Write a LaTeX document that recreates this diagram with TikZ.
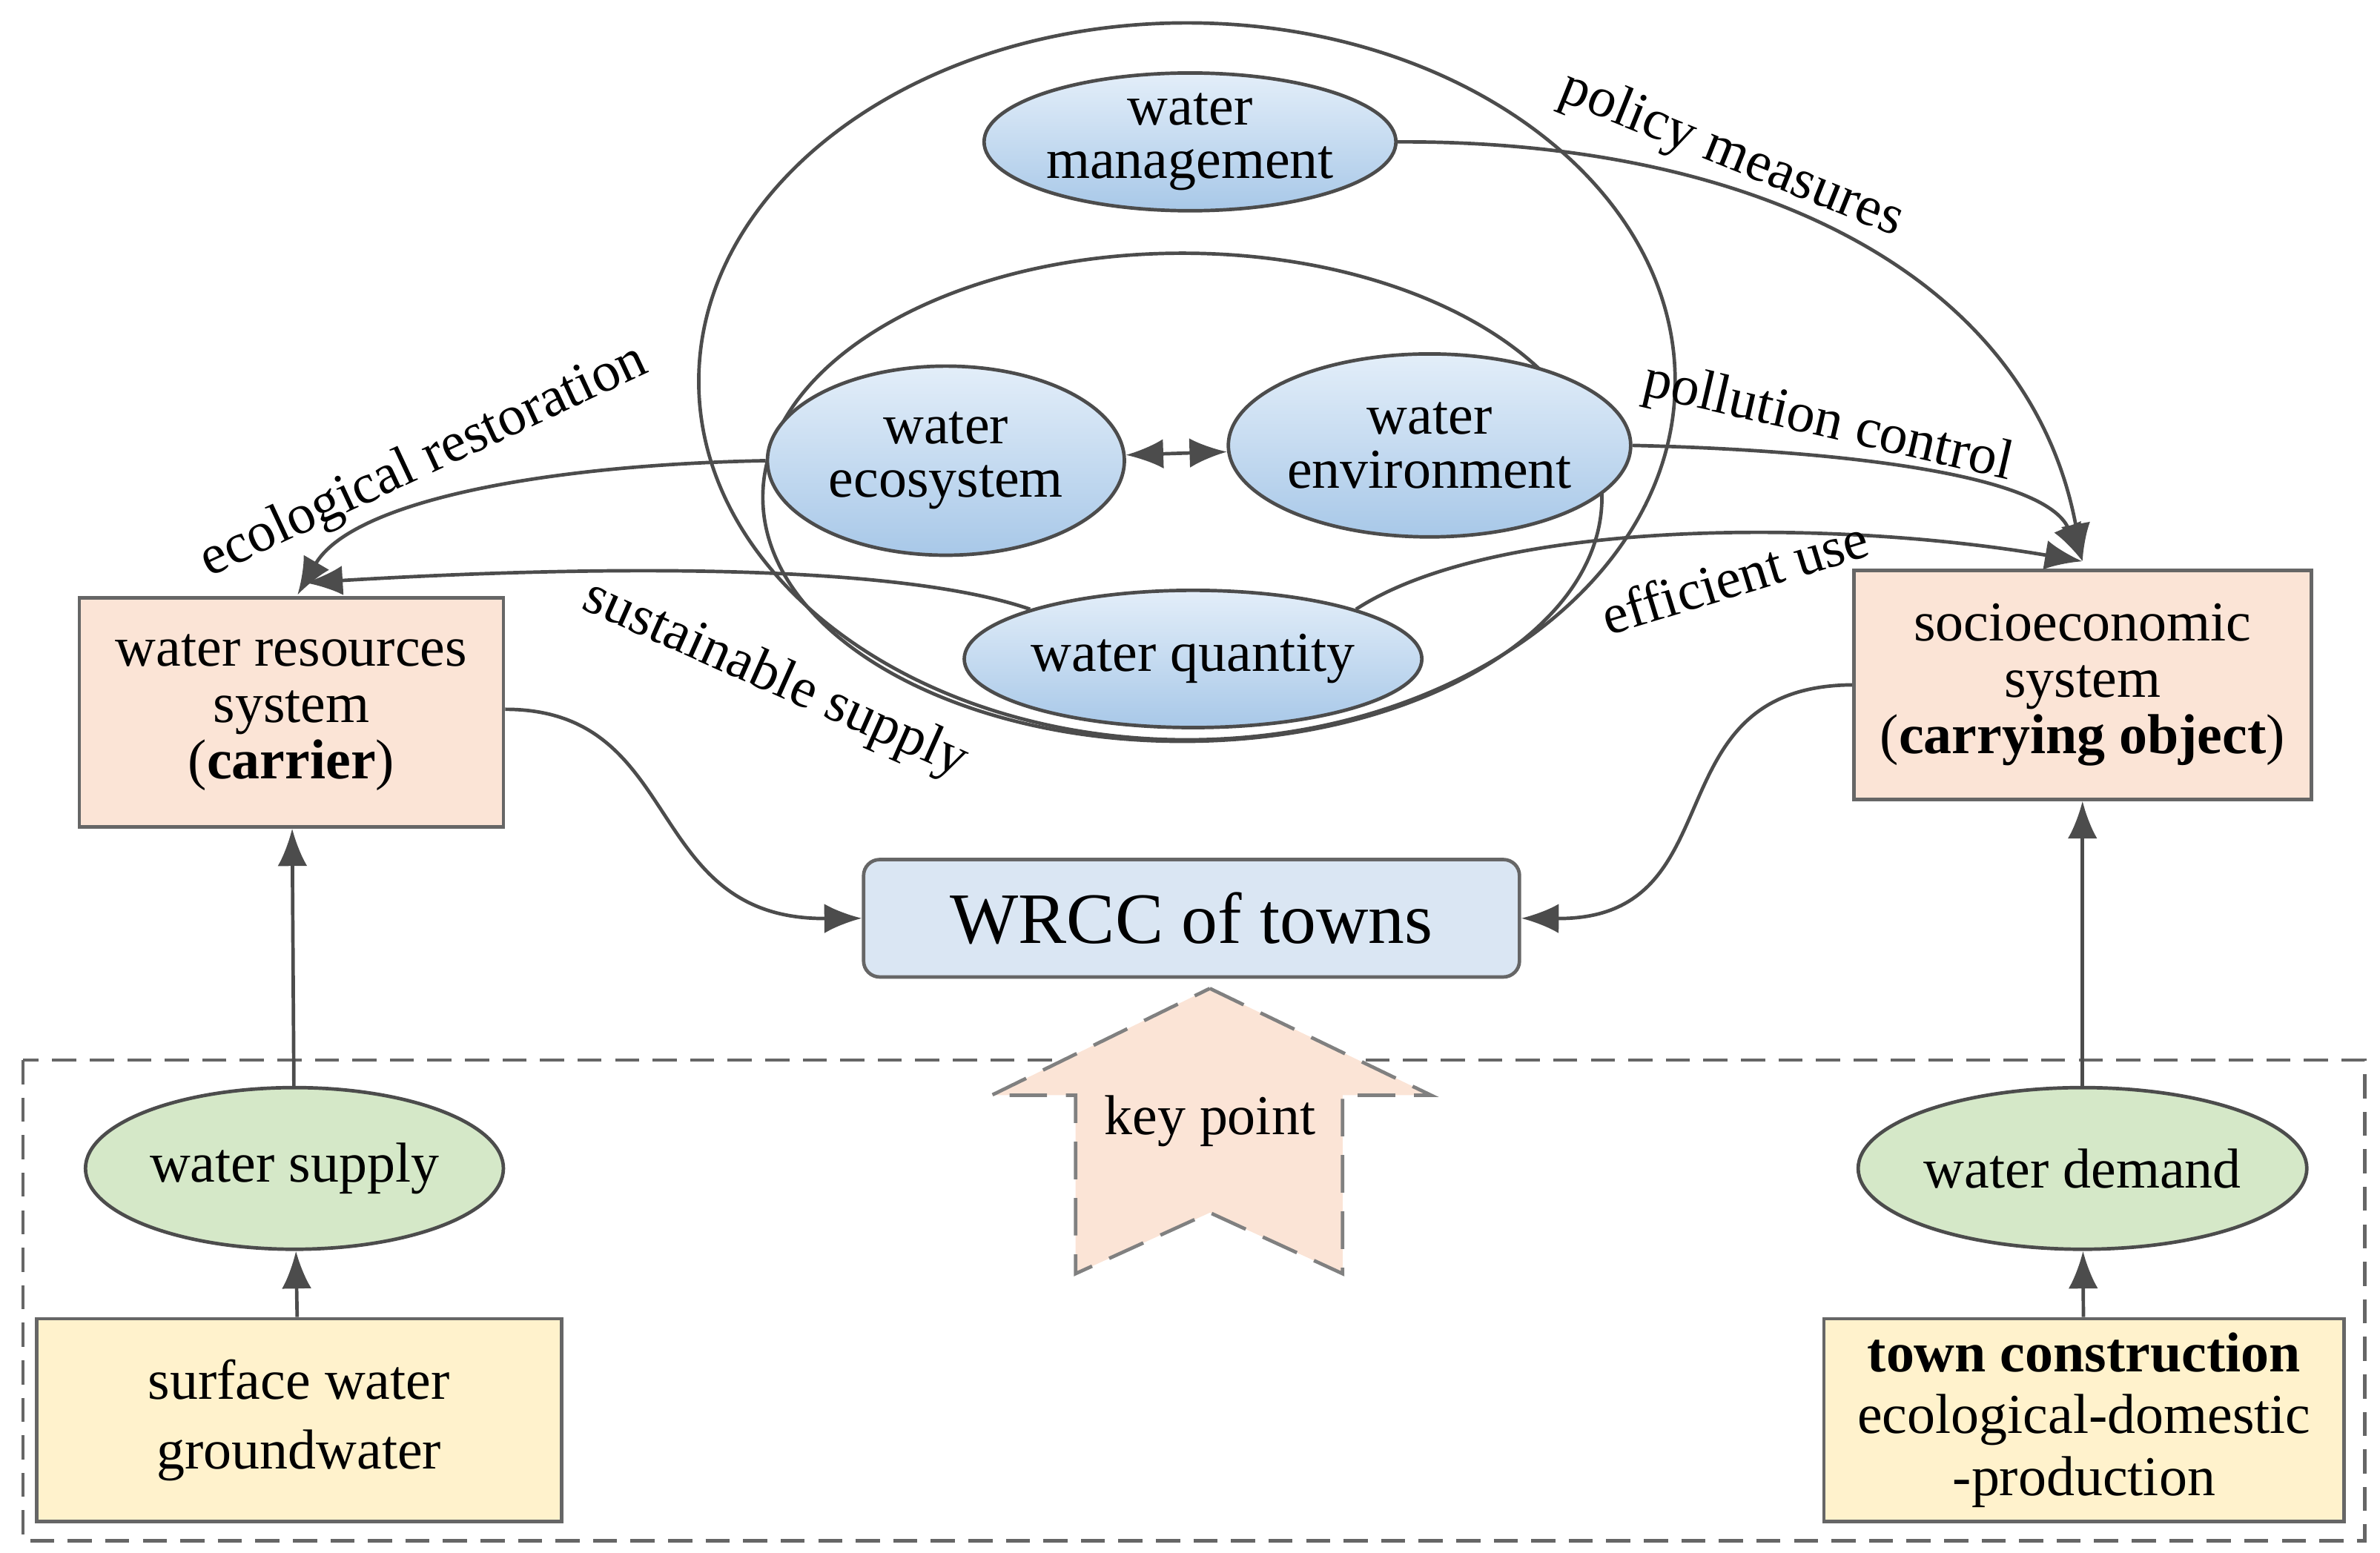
\documentclass[tikz,border=0pt]{standalone}
\usepackage{fontspec}
\setmainfont{Liberation Serif}
\usetikzlibrary{shapes.geometric,arrows.meta}
\definecolor{bluT}{HTML}{E3EEF9}
\definecolor{bluB}{HTML}{A8C8E8}
\definecolor{wrcc}{HTML}{DAE6F3}
\definecolor{peach}{HTML}{FBE4D6}
\definecolor{grnF}{HTML}{D5E8C8}
\definecolor{yel}{HTML}{FFF2CC}
\begin{document}
\begin{tikzpicture}[x=0.02cm,y=-0.02cm,
  font=\fontsize{21}{24}\selectfont,
  ln/.style={draw=black!70,line width=1.3pt},
  ar/.style={ln,-{Latex[length=14pt,width=11pt]}},
  blu/.style={ellipse,draw=black!70,line width=1.3pt,top color=bluT,bottom color=bluB,align=center,inner sep=0pt},
  grn/.style={ellipse,draw=black!70,line width=1.3pt,fill=grnF,inner sep=0pt},
  box/.style={rectangle,draw=black!60,line width=1.3pt,align=center,inner sep=0pt}]
\useasboundingbox (0,0) rectangle (1560,1018);
\draw[ln] (778,250) ellipse [x radius=320,y radius=235];
\draw[ln] (775,326) ellipse [x radius=275,y radius=160];
\node[blu,minimum width=5.4cm,minimum height=1.8cm] (wm) at (780,93) {water\\[-4pt]management};
\node[blu,minimum width=4.68cm,minimum height=2.48cm] (eco) at (620,302) {water\\[-4pt]ecosystem};
\node[blu,minimum width=4.6cm,minimum height=2.4cm] (env) at (937,292) {water\\[-4pt]environment};
\node[blu,minimum width=5.4cm,minimum height=1.8cm] (wq) at (782,432) {water quantity};
\node[box,fill=peach,minimum width=5.56cm,minimum height=3cm] (wr) at (191,467) {water resources\\[-3pt]system\\[-3pt](\textbf{carrier})};
\node[box,fill=peach,minimum width=6cm,minimum height=3cm] (se) at (1365,449) {socioeconomic\\[-3pt]system\\[-3pt](\textbf{carrying object})};
\node[box,rounded corners=6pt,fill=wrcc,minimum width=8.6cm,minimum height=1.54cm,font=\fontsize{27}{30}\selectfont] (wc) at (781,602) {WRCC of towns};
\draw[draw=black!60,line width=1.3pt,dash pattern=on 9pt off 5pt] (15,695) rectangle (1550,1010);
\draw[draw=black!50,line width=1.3pt,dash pattern=on 14pt off 7pt,fill=peach] (793,648) -- (938,718) -- (880,718) -- (880,835) -- (793,795) -- (705,835) -- (705,718) -- (650,718) -- cycle;
\node (kp) at (793,735) {key point};
\node[grn,minimum width=5.48cm,minimum height=2.12cm] (ws) at (193,766) {water supply};
\node[grn,minimum width=5.48cm,minimum height=2.12cm] (wd) at (1365,766) {water demand};
\node[box,fill=yel,minimum width=6.88cm,minimum height=2.66cm] (sw) at (196,931) {surface water\\[2pt]groundwater};
\node[box,fill=yel,minimum width=6.82cm,minimum height=2.66cm] (tc) at (1366,931) {\textbf{town construction}\\[-1pt]ecological-domestic\\[-1pt]-production};
% arrows
\draw[ar] (ws) -- (wr);
\draw[ar] (sw) -- (ws);
\draw[ar] (wd) -- (se);
\draw[ar] (tc) -- (wd);
\draw[ar] (wr.east|-0,465) .. controls (450,465) and (420,603) .. (wc.west);
\draw[ar] (se.west) .. controls (1080,450) and (1140,603) .. (wc.east);
\draw[ar,{Latex[length=14pt,width=11pt]}-{Latex[length=14pt,width=11pt]}] (eco) -- (env);
\coordinate (wrt) at (195,390);
\coordinate (sot) at (1365,368);
\draw[ar] (eco.west) .. controls (350,305) and (230,330) .. (wrt);
\draw[ar] (wq.north west) .. controls (590,370) and (400,370) .. (200,382);
\draw[ar] (wm.east) .. controls (1150,92) and (1330,180) .. (sot);
\draw[ar] (env.east) .. controls (1200,295) and (1340,310) .. (sot);
\draw[ar] (wq.north east) .. controls (980,340) and (1200,340) .. (sot);
% labels
\node[rotate=25] at (278,303) {ecological restoration};
\node[rotate=-24] at (508,446) {sustainable supply};
\node[rotate=-22] at (1135,102) {policy measures};
\node[rotate=-13] at (1198,278) {pollution control};
\node[rotate=17] at (1137,378) {efficient use};
\end{tikzpicture}
\end{document}
